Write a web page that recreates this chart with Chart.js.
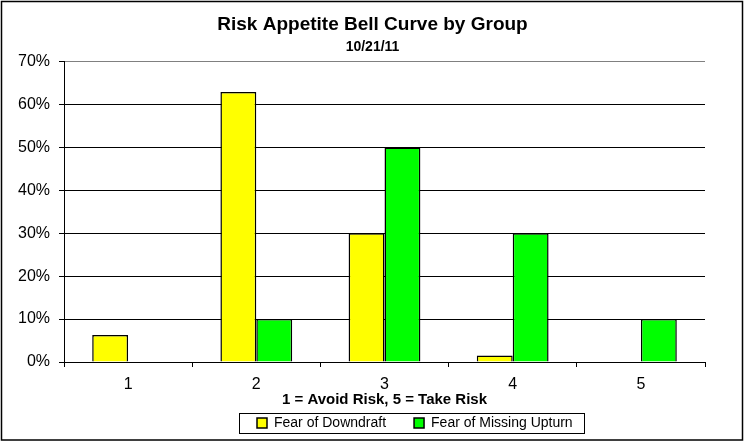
<!DOCTYPE html>
<html>
<head>
<meta charset="utf-8">
<script src="https://cdn.jsdelivr.net/npm/chart.js@4"></script>
<style>
    html, body { margin: 0; padding: 0; background: #fff; }
</style>
</head>
<body>
<canvas id="chart" width="745" height="442"></canvas>
<script>
const groups = ['1', '2', '3', '4', '5'];
const fearOfDowndraft = [6.3, 62.9, 30, 1.5, 0];
const fearOfMissingUpturn = [0, 10, 50, 30, 10];
const yMax = 70;
const yStep = 10;

Chart.defaults.font.family = '"Liberation Sans", Arial, sans-serif';
Chart.defaults.color = '#000';

// white page + black frame round the whole picture
const framePlugin = {
    id: 'frame',
    beforeDraw(chart) {
        const ctx = chart.ctx;
        ctx.save();
        ctx.fillStyle = '#fff';
        ctx.fillRect(0, 0, chart.width, chart.height);
        ctx.restore();
    },
    afterDraw(chart) {
        const ctx = chart.ctx;
        ctx.save();
        ctx.strokeStyle = '#000';
        ctx.lineWidth = 1.5;
        ctx.strokeRect(1.5, 1.5, chart.width - 4, chart.height - 3.5);
        ctx.restore();
    },
};

// move the legend where the original had it and box it in
const legendBoxPlugin = {
    id: 'legendBox',
    afterLayout(chart) {
        const lg = chart.legend;
        const pad = lg.options.labels.padding;
        const startX = (lg.left + pad + lg.right - lg.lineWidths[0]) / 2;
        const dx = 257 - startX;
        const dy = 388 - lg.top;
        lg.left += dx;
        lg.right += dx;
        lg.top += dy;
        lg.bottom += dy;
    },
    afterDraw(chart) {
        const boxes = chart.legend.legendHitBoxes;
        if (!boxes || !boxes.length) return;
        const first = boxes[0];
        const last = boxes[boxes.length - 1];
        const cy = first.top + first.height / 2;
        const ctx = chart.ctx;
        ctx.save();
        ctx.strokeStyle = '#000';
        ctx.lineWidth = 1;
        const x0 = Math.round(first.left - 18) + 0.5;
        const x1 = Math.round(last.left + last.width + 11) + 0.5;
        ctx.strokeRect(x0, Math.round(cy - 10) + 0.5, x1 - x0, 20);
        ctx.restore();
    },
};

new Chart(document.getElementById('chart'), {
    type: 'bar',
    data: {
        labels: groups,
        datasets: [
            {
                label: 'Fear of Downdraft',
                data: fearOfDowndraft,
                backgroundColor: '#FFFF00',
                borderColor: '#000',
                borderWidth: 1.5,
                yAxisID: 'y',
            },
            {
                label: 'Fear of Missing Upturn',
                data: fearOfMissingUpturn,
                backgroundColor: '#00FF00',
                borderColor: '#000',
                borderWidth: 1.5,
                yAxisID: 'y',
            },
        ],
    },
    options: {
        responsive: false,
        devicePixelRatio: 1,
        animation: false,
        layout: { padding: 0 },
        datasets: {
            bar: { categoryPercentage: 0.56, barPercentage: 1 },
        },
        plugins: {
            title: {
                display: true,
                text: 'Risk Appetite Bell Curve by Group',
                color: '#000',
                font: { size: 19, weight: 'bold' },
                padding: { top: 13, bottom: 0 },
            },
            subtitle: {
                display: true,
                text: '10/21/11',
                color: '#000',
                font: { size: 14, weight: 'bold' },
                padding: { top: 3, bottom: 6 },
            },
            legend: {
                position: 'bottom',
                labels: {
                    boxWidth: 10,
                    boxHeight: 10,
                    padding: 28,
                    color: '#000',
                    font: { size: 14 },
                },
            },
            tooltip: { enabled: false },
        },
        scales: {
            x: {
                grid: {
                    offset: true,
                    drawOnChartArea: true,
                    color: (c) => (c.index === groups.length ? '#808080' : 'rgba(0,0,0,0)'),
                    tickColor: '#000',
                    tickLength: 5,
                },
                border: { color: '#000', width: 1 },
                ticks: { color: '#000', font: { size: 16 }, padding: 8 },
                title: {
                    display: true,
                    text: '1 = Avoid Risk, 5 = Take Risk',
                    color: '#000',
                    font: { size: 15, weight: 'bold' },
                    padding: { top: 0, bottom: -19 },
                },
                afterFit: (s) => { s.height = 28; },
            },
            y: {
                min: 0,
                max: yMax,
                ticks: {
                    stepSize: yStep,
                    color: '#000',
                    font: { size: 16 },
                    padding: 9,
                    callback: (v) => v + '%',
                },
                grid: {
                    color: (c) => (c.tick && c.tick.value === yMax ? '#808080' : '#000'),
                    tickColor: '#000',
                    tickLength: 5,
                },
                border: { color: '#000', width: 1 },
                afterFit: (s) => { s.width = 64; },
            },
            yRight: {
                position: 'right',
                grid: { display: false },
                border: { display: false },
                ticks: { display: false },
                afterFit: (s) => { s.width = 40; },
            },
        },
    },
    plugins: [framePlugin, legendBoxPlugin],
});
</script>
</body>
</html>
